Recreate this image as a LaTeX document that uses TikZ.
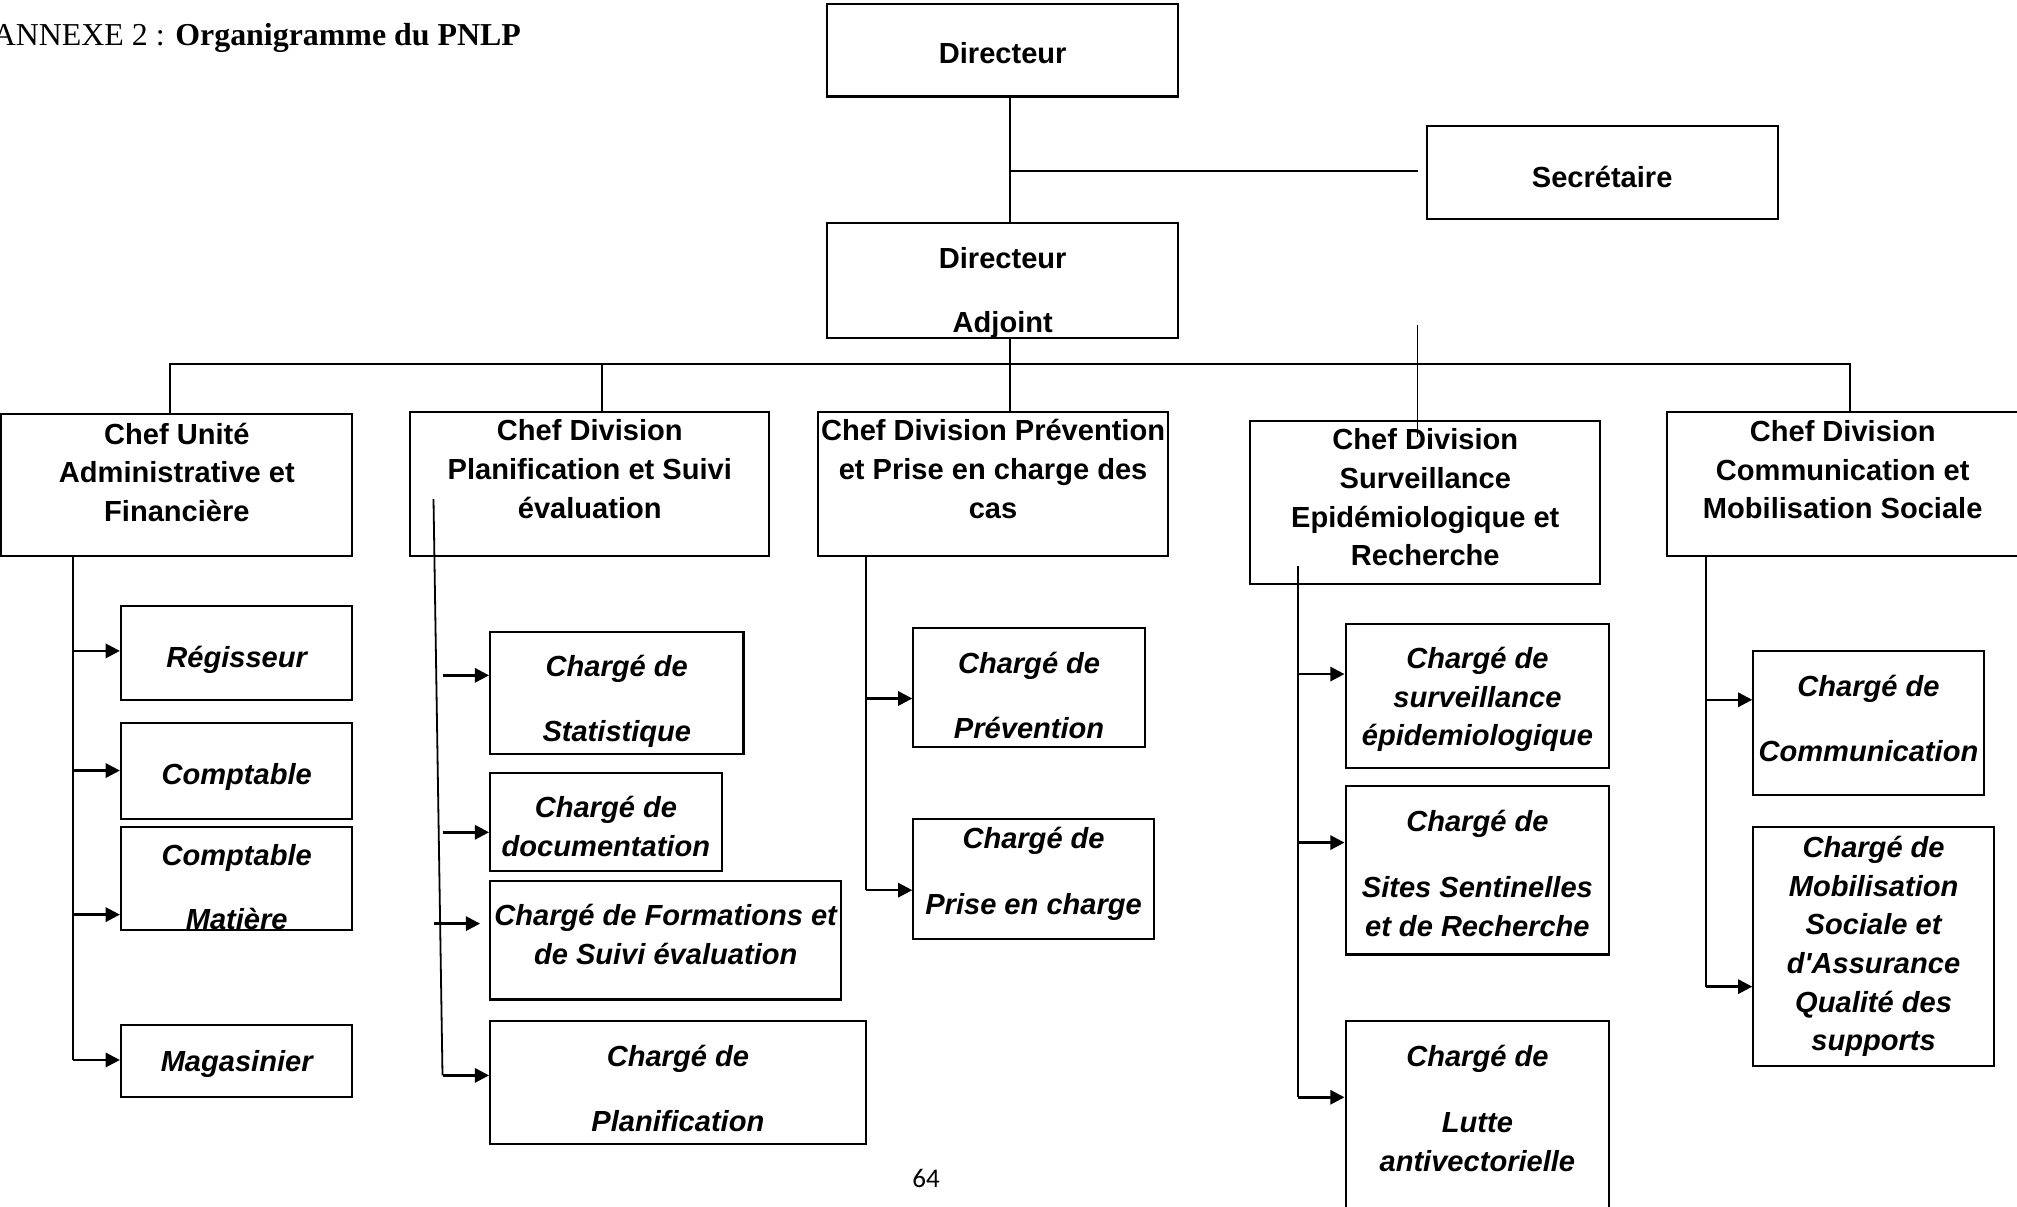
\documentclass[tikz,border=0pt]{standalone}
\usepackage{fontspec}
\setmainfont{Liberation Serif}
\newfontfamily\arialfont{Liberation Sans}
\newfontfamily\calibrifont{Carlito}
\usepackage{tikz}
\usetikzlibrary{arrows.meta}

% text of a box, raised by #1 from the box centre
\newcommand{\boxtext}[2]{%
  \raisebox{\dimexpr #1-4.1pt\relax}[0pt][0pt]{\begin{tabular}{@{}c@{}}#2\end{tabular}}}

\begin{document}
\begin{tikzpicture}[
  x=0.5pt, y=-0.5pt,
  box/.style = {
    draw, line width=0.8pt, inner sep=0pt,
    font=\arialfont\bfseries\fontsize{11.3pt}{15pt}\selectfont
  },
  chef box/.style   = {box},
  charge box/.style = {box, font=\arialfont\bfseries\itshape\fontsize{11.3pt}{15pt}\selectfont},
  wh/.style 2 args  = {minimum width={#1*0.5pt}, minimum height={#2*0.5pt}},
  line/.style = {line width=0.7pt},
  arr/.style  = {-{Triangle[length=5.5pt, width=5.5pt]}, line width=1pt},
]

\path[use as bounding box, fill=white] (0,0) rectangle (1568,938);

\node[anchor=base west, inner sep=0pt, font=\fontsize{12.4pt}{15pt}\selectfont] (titre)
  at (-6,35) {ANNEXE 2 : \textbf{Organigramme du PNLP}};

% direction
\node[box, wh={273}{72}] (dir) at (779.5,39)   {\boxtext{-1pt}{Directeur}};
\node[box, wh={273}{72}] (sec) at (1245.5,134) {\boxtext{-1.5pt}{Secrétaire}};
\node[box, wh={273}{90}] (adj) at (779.5,218)  {\boxtext{-3.5pt}{Directeur\\[10pt]Adjoint}};

% divisions
\node[chef box, wh={273}{110}] (chef-uaf)  at (137.5,377)  {\boxtext{5.25pt}{Chef Unité\\Administrative et\\Financière}};
\node[chef box, wh={279}{112}] (chef-pse)  at (458.5,376)  {\boxtext{6pt}{Chef Division\\Planification et Suivi\\évaluation}};
\node[chef box, wh={272}{112}] (chef-ppc)  at (772,376)    {\boxtext{6pt}{Chef Division Prévention\\et Prise en charge des\\cas}};
\node[chef box, wh={272}{127}] (chef-sepi) at (1108,390.5) {\boxtext{2.25pt}{Chef Division\\Surveillance\\Epidémiologique et\\Recherche}};
\node[chef box, wh={273}{112}] (chef-cms)  at (1432.5,376) {\boxtext{5.75pt}{Chef Division\\Communication et\\Mobilisation Sociale}};

% unite administrative
\node[charge box, wh={180}{73}] (regisseur)  at (184,507.5) {\boxtext{-1.25pt}{Régisseur}};
\node[charge box, wh={180}{75}] (comptable)  at (184,599.5) {\boxtext{-0.75pt}{Comptable}};
\node[charge box, wh={180}{80}] (compt-mat)  at (184,683)   {\boxtext{-3pt}{Comptable\\[10pt]Matière}};
\node[charge box, wh={180}{56}] (magasinier) at (184,825)   {\boxtext{0.5pt}{Magasinier}};

% planification
\node[charge box, wh={197}{95}] (statistique)   at (479.5,538.5) {\boxtext{-2pt}{Chargé de\\[10.5pt]Statistique}};
\node[charge box, wh={180}{76}] (documentation) at (471,639)     {\boxtext{-1.5pt}{Chargé de\\documentation}};
\node[charge box, wh={273}{92}] (formations)    at (517.5,731)   {\boxtext{2.5pt}{Chargé de Formations et\\de Suivi évaluation}};
\node[charge box, wh={292}{95}] (planification) at (527,841.5)   {\boxtext{-2pt}{Chargé de\\[10.5pt]Planification}};

% prevention
\node[charge box, wh={180}{93}] (prevention)   at (800,534.5)   {\boxtext{-2.75pt}{Chargé de\\[10pt]Prévention}};
\node[charge box, wh={187}{93}] (prise-charge) at (803.5,683.5) {\boxtext{3.5pt}{Chargé de\\[10.5pt]Prise en charge}};

% surveillance
\node[charge box, wh={205}{112}] (surveillance) at (1148.5,541)   {\boxtext{0pt}{Chargé de\\surveillance\\épidemiologique}};
\node[charge box, wh={205}{131}] (sentinelles)  at (1148.5,676.5) {\boxtext{-1pt}{Chargé de\\[10.5pt]Sites Sentinelles\\et de Recherche}};
\node[charge box, wh={205}{156}] (lav)          at (1148.5,872)   {\boxtext{5.5pt}{Chargé de\\[11pt]Lutte\\antivectorielle}};

% communication
\node[charge box, wh={179}{112}] (communication) at (1452.5,562) {\boxtext{2pt}{Chargé de\\[10pt]Communication}};
\node[charge box, wh={187}{186}] (mobilisation)  at (1456.5,736) {\boxtext{1.5pt}{Chargé de\\Mobilisation\\Sociale et\\d'Assurance\\Qualité des\\supports}};

\node[anchor=base, inner sep=0pt, font=\calibrifont\fontsize{10.5pt}{12pt}\selectfont] (page-num)
  at (720,923) {64};

% top links
\coordinate (j0) at (785,133);
\draw[line] (dir.south -| j0) -- (adj.north -| j0);
\draw[line, shorten >=3pt] (j0) -- (sec.west |- j0);

% bus
\coordinate (bus-l) at (132,283);
\coordinate (bus-p) at (468,283);
\coordinate (bus-r) at (1438,283);
\draw[line] (chef-uaf.north -| bus-l) -- (bus-l) -- (bus-r) -- (chef-cms.north -| bus-r);
\draw[line] (bus-p) -- (chef-pse.north -| bus-p);
\draw[line] (adj.south -| j0) -- (chef-ppc.north -| j0);
\coordinate (s-top) at (1102,253);
\coordinate (s-bot) at (1102,340);
\draw[line] (s-top) -- (s-bot);

% unite administrative
\coordinate (a1) at (57,506);
\coordinate (a2) at (57,599);
\coordinate (a3) at (57,711);
\coordinate (a4) at (57,824);
\draw[line] (chef-uaf.south -| a1) -- (a4);
\foreach \c/\n in {a1/regisseur, a2/comptable, a3/compt-mat, a4/magasinier}
  \draw[arr] (\c) -- (\c -| \n.west);

% planification
\coordinate (p0) at (337,388);
\coordinate (p1) at (344,525);
\coordinate (p2) at (344,647);
\coordinate (p3) at (337,718);
\coordinate (p4) at (344,836);
\draw[line] (p0) -- (p4);
\draw[arr] (p1) -- (p1 -| statistique.west);
\draw[arr] (p2) -- (p2 -| documentation.west);
\draw[arr, shorten >=3.5pt] (p3) -- (p3 -| formations.west);
\draw[arr] (p4) -- (p4 -| planification.west);

% prevention
\coordinate (c1) at (673,543);
\coordinate (c2) at (673,692);
\draw[line] (chef-ppc.south -| c1) -- (c2);
\draw[arr] (c1) -- (c1 -| prevention.west);
\draw[arr] (c2) -- (c2 -| prise-charge.west);

% surveillance
\coordinate (d0) at (1009,440);
\coordinate (d1) at (1009,524);
\coordinate (d2) at (1009,655);
\coordinate (d3) at (1009,853);
\draw[line] (d0) -- (d3);
\foreach \c/\n in {d1/surveillance, d2/sentinelles, d3/lav}
  \draw[arr] (\c) -- (\c -| \n.west);

% communication
\coordinate (e1) at (1326,544);
\coordinate (e2) at (1326,767);
\draw[line] (chef-cms.south -| e1) -- (e2);
\draw[arr] (e1) -- (e1 -| communication.west);
\draw[arr] (e2) -- (e2 -| mobilisation.west);

\end{tikzpicture}
\end{document}
